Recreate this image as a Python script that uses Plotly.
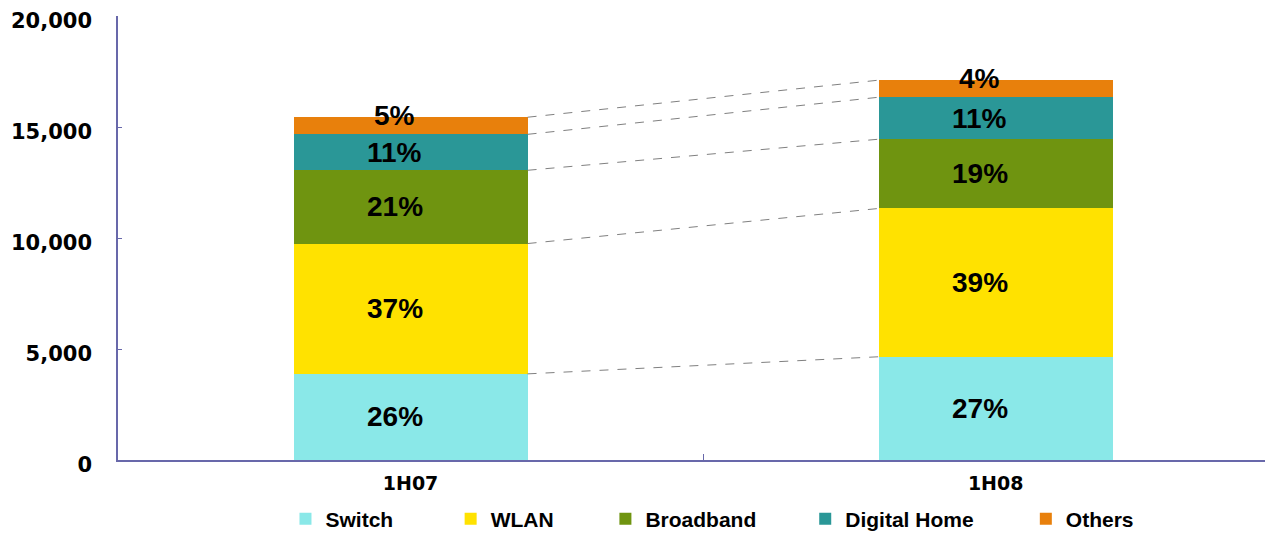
import plotly.graph_objects as go

periods = ["1H07", "1H08"]
segments = ["Switch", "WLAN", "Broadband", "Digital Home", "Others"]

# revenue by segment
switch = [3880, 4650]
wlan = [5870, 6680]
broadband = [3300, 3120]
digital_home = [1620, 1890]
others = [770, 770]

# share labels as printed on the bars
pct_1h07 = ["26%", "37%", "21%", "11%", "5%"]
pct_1h08 = ["27%", "39%", "19%", "11%", "4%"]

colors = ["#8ae8e8", "#ffe200", "#6f9410", "#2a9797", "#e8800c"]
axis_color = "#6868aa"
bar_width = 0.4

series = [switch, wlan, broadband, digital_home, others]
legend_x = [0.145, 0.288, 0.422, 0.595, 0.786]

fig = go.Figure()
for i, (name, vals) in enumerate(zip(segments, series)):
    fig.add_trace(go.Bar(
        x=periods, y=vals, name=name,
        marker=dict(color=colors[i], line=dict(width=0)),
        width=bar_width,
        legend="legend" if i == 0 else f"legend{i + 1}",
    ))

# cumulative tops, used for labels and connector lines
tops = []
running = [0, 0]
for vals in series:
    running = [running[j] + vals[j] for j in range(2)]
    tops.append(list(running))

annotations = []
for j, labels in enumerate([pct_1h07, pct_1h08]):
    base = 0
    for i, vals in enumerate(series):
        annotations.append(dict(
            x=periods[j], y=base + vals[j] / 2, text=labels[i],
            showarrow=False, xshift=-16, yshift=10 if i == 4 else 0,
            font=dict(family="Liberation Sans, Arial", size=28, color="black", weight="bold"),
        ))
        base += vals[j]

shapes = []
for t in tops:
    shapes.append(dict(
        type="line", xref="x", yref="y",
        x0=0 + bar_width / 2, y0=t[0], x1=1 - bar_width / 2, y1=t[1],
        line=dict(color="#808080", width=1, dash="dash"),
    ))

layout_legends = {}
for i in range(5):
    key = "legend" if i == 0 else f"legend{i + 1}"
    layout_legends[key] = dict(
        x=legend_x[i], xanchor="left", y=0.0413, yanchor="middle", yref="container",
        orientation="h", bgcolor="rgba(0,0,0,0)",
        font=dict(family="Liberation Sans, Arial", size=21,
                  color="black", weight="bold"),
    )

# the page body adds an 8px offset, margins account for it
fig.update_layout(
    width=1273, height=533,
    margin=dict(l=110, r=8, t=8, b=81),
    plot_bgcolor="white", paper_bgcolor="white",
    barmode="stack",
    showlegend=True,
    annotations=annotations,
    shapes=shapes,
    **layout_legends,
)

fig.update_xaxes(
    range=[-0.5, 1.474], automargin=False,
    showline=True, linecolor=axis_color, linewidth=1.5,
    ticks="inside", tickson="boundaries", ticklen=6, tickcolor=axis_color,
    showgrid=False, zeroline=False,
    ticklabelstandoff=5,
    tickfont=dict(family="DejaVu Sans, Verdana", size=19, color="black", weight="bold"),
)
fig.update_yaxes(
    range=[0, 20000], dtick=5000, tickformat=",d", automargin=False,
    showline=True, linecolor=axis_color, linewidth=1.5,
    ticks="inside", ticklen=4, tickcolor=axis_color,
    showgrid=False, zeroline=False,
    ticklabelstandoff=20, ticklabelshift=5, ticklabeloverflow="allow",
    tickfont=dict(family="DejaVu Sans, Verdana", size=21, color="black", weight="bold"),
)

fig.write_html("out.html")
